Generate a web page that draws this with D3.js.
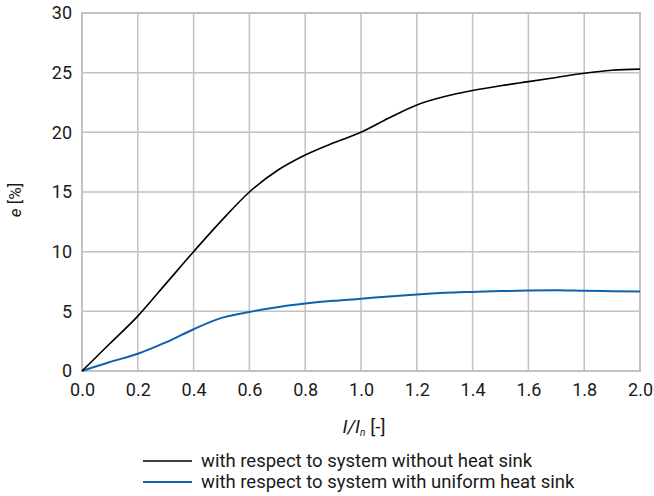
<!DOCTYPE html>
<html>
<head>
<meta charset="utf-8">
<script src="https://cdn.jsdelivr.net/npm/d3@7"></script>
<style>
  body { margin: 0; background: #fff; }
  svg { display: block; font-family: Roboto, "Noto Sans", sans-serif; }
  .grid line { stroke: #c2c2c2; stroke-width: 1.5; }
  .tick text { fill: #1a1a1a; }
</style>
</head>
<body>
<svg id="chart" width="654" height="496"></svg>
<script>
// I/In from 0.0 to 2.0 in steps of 0.1
var ratio = [0.0, 0.1, 0.2, 0.3, 0.4, 0.5, 0.6, 0.7, 0.8, 0.9, 1.0,
             1.1, 1.2, 1.3, 1.4, 1.5, 1.6, 1.7, 1.8, 1.9, 2.0];
var noSink = [0, 2.3, 4.6, 7.3, 10.0, 12.6, 15.0, 16.8, 18.1, 19.1, 20.0,
              21.2, 22.3, 23.0, 23.5, 23.9, 24.25, 24.6, 24.95, 25.2, 25.3];
var uniformSink = [0, 0.75, 1.45, 2.4, 3.5, 4.45, 4.95, 5.35, 5.65, 5.88, 6.05,
                   6.25, 6.42, 6.55, 6.63, 6.7, 6.74, 6.76, 6.72, 6.69, 6.66];
var xTicks = [0, 0.2, 0.4, 0.6, 0.8, 1.0, 1.2, 1.4, 1.6, 1.8, 2.0];
var yTicks = [0, 5, 10, 15, 20, 25, 30];
var seriesNames = ["with respect to system without heat sink",
                   "with respect to system with uniform heat sink"];
var seriesColors = ["#000000", "#0f62ab"];

var margin = {top: 13, right: 14, bottom: 125, left: 82},
    width = 654 - margin.left - margin.right,
    height = 496 - margin.top - margin.bottom;

var svg = d3.select("#chart");
var g = svg.append("g")
    .attr("transform", "translate(" + margin.left + "," + margin.top + ")");

var x = d3.scaleLinear().domain([0, 2]).range([0, width]);
var y = d3.scaleLinear().domain([0, 30]).range([height, 0]);

// grid
g.append("g").attr("class", "grid")
  .selectAll("line.v").data(xTicks).enter().append("line")
    .attr("x1", d => x(d)).attr("x2", d => x(d))
    .attr("y1", 0).attr("y2", height);
g.append("g").attr("class", "grid")
  .selectAll("line.h").data(yTicks).enter().append("line")
    .attr("x1", 0).attr("x2", width)
    .attr("y1", d => y(d)).attr("y2", d => y(d));
g.append("rect")
    .attr("width", width).attr("height", height)
    .attr("fill", "none").attr("stroke", "#c2c2c2").attr("stroke-width", 2);

// axes (labels only)
var xAxis = d3.axisBottom(x).tickValues(xTicks).tickSize(0).tickPadding(12)
    .tickFormat(d3.format(".1f"));
var yAxis = d3.axisLeft(y).tickValues(yTicks).tickSize(0).tickPadding(10)
    .tickFormat(d3.format("d"));

g.append("g").attr("transform", "translate(0," + height + ")").call(xAxis)
  .call(a => a.select(".domain").remove())
  .selectAll("text").style("font-size", "18px").style("font-family", "Roboto");
g.append("g").call(yAxis)
  .call(a => a.select(".domain").remove())
  .selectAll("text").style("font-size", "18px").style("font-family", "Roboto");

// lines
var rows = ratio.map((r, i) => ({x: r, a: noSink[i], b: uniformSink[i]}));
var lineA = d3.line().x(d => x(d.x)).y(d => y(d.a)).curve(d3.curveMonotoneX);
var lineB = d3.line().x(d => x(d.x)).y(d => y(d.b)).curve(d3.curveMonotoneX);

g.append("path").datum(rows).attr("d", lineB)
  .attr("fill", "none").attr("stroke", seriesColors[1]).attr("stroke-width", 2);
g.append("path").datum(rows).attr("d", lineA)
  .attr("fill", "none").attr("stroke", seriesColors[0]).attr("stroke-width", 1.6);

// axis titles
var xt = svg.append("text")
    .attr("x", margin.left + width / 2 + 3).attr("y", 433)
    .attr("text-anchor", "middle")
    .style("font-size", "19px").attr("fill", "#1a1a1a");
xt.append("tspan").style("font-style", "italic").text("I/I");
xt.append("tspan").style("font-style", "italic").style("font-size", "10px")
  .attr("dy", 3).text("n");
xt.append("tspan").attr("dy", -3).text(" [-]");

var yt = svg.append("text")
    .attr("transform", "translate(21," + (margin.top + height / 2 + 8) + ") rotate(-90)")
    .attr("text-anchor", "middle")
    .style("font-size", "17px").attr("fill", "#1a1a1a");
yt.append("tspan").style("font-style", "italic").text("e");
yt.append("tspan").text(" [%]");

// legend
var legend = svg.append("g").attr("transform", "translate(150,461)");
var item = legend.selectAll("g").data(seriesNames).enter().append("g")
    .attr("transform", (d, i) => "translate(0," + i * 21 + ")");
item.append("line")
    .attr("x1", -7).attr("x2", 42)
    .attr("stroke", (d, i) => seriesColors[i])
    .attr("stroke-width", (d, i) => i ? 2 : 1.6);
item.append("text")
    .attr("x", 51).attr("dy", "0.35em")
    .style("font-size", "18.5px").attr("fill", "#1a1a1a")
    .text(d => d);
</script>
</body>
</html>
